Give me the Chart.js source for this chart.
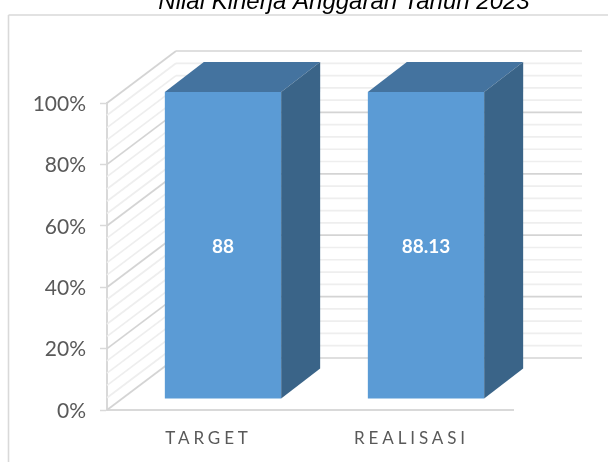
<!DOCTYPE html>
<html>
<head>
<meta charset="utf-8">
<title>Nilai Kinerja Anggaran Tahun 2023</title>
<style>
  html, body { margin: 0; padding: 0; background: #fff; overflow: hidden; }
  canvas { display: block; }
</style>
<script src="https://cdn.jsdelivr.net/npm/chart.js@4"></script>
</head>
<body>
<canvas id="chart" width="608" height="462"></canvas>
<script>
const chartTitle = 'Nilai Kinerja Anggaran Tahun 2023'
const categories = ['TARGET', 'REALISASI']
const sharePercent = [100, 100]
const valueLabels = ['88', '88.13']

const yMax = 100
const majorStep = 20
const minorStep = 4

// "3D" look: depth of the walls and of the bars
const wall = { dx: 69, dy: 52, right: 582 }
const bar = { dx: 39, dy: 30, shiftX: 14.5, shiftY: -11 }

function line (ctx, x1, y1, x2, y2, color, width) {
  ctx.strokeStyle = color
  ctx.lineWidth = width
  ctx.beginPath()
  ctx.moveTo(x1, y1)
  ctx.lineTo(x2, y2)
  ctx.stroke()
}

function face (ctx, pts, color) {
  ctx.fillStyle = color
  ctx.beginPath()
  pts.forEach((p, i) => i ? ctx.lineTo(p[0], p[1]) : ctx.moveTo(p[0], p[1]))
  ctx.closePath()
  ctx.fill()
}

const fake3d = {
  id: 'fake3d',
  beforeDraw (chart) {
    const ctx = chart.ctx
    ctx.save()
    ctx.fillStyle = '#fff'
    ctx.fillRect(0, 0, chart.width, chart.height)
    line(ctx, 8.5, 15, chart.width, 15, '#d9d9d9', 1.6)
    line(ctx, 8.5, 15, 8.5, chart.height, '#d9d9d9', 1.6)
    ctx.restore()
  },
  beforeDatasetsDraw (chart) {
    const ctx = chart.ctx
    const { x, y } = chart.scales
    const left = x.left
    ctx.save()
    for (let v = 0; v <= yMax; v += minorStep) {
      const major = v % majorStep === 0
      const color = major ? '#d4d4d4' : '#eeeeee'
      const py = y.getPixelForValue(v)
      line(ctx, left, py, left + wall.dx, py - wall.dy, color, 1.7)
      line(ctx, left + wall.dx, py - wall.dy, wall.right, py - wall.dy, color, 1.7)
    }
    ctx.restore()
    ctx.save()
    ctx.translate(bar.shiftX, bar.shiftY)
  },
  afterDatasetsDraw (chart) {
    const ctx = chart.ctx
    chart.getDatasetMeta(0).data.forEach((el, i) => {
      const l = el.x - el.width / 2
      const r = el.x + el.width / 2
      face(ctx, [[l, el.y], [r, el.y], [r + bar.dx, el.y - bar.dy], [l + bar.dx, el.y - bar.dy]], '#44739f')
      face(ctx, [[r, el.y], [r + bar.dx, el.y - bar.dy], [r + bar.dx, el.base - bar.dy], [r, el.base]], '#3a6488')
      ctx.fillStyle = '#fff'
      ctx.font = 'bold 19px Lato'
      ctx.textAlign = 'center'
      ctx.textBaseline = 'middle'
      ctx.fillText(valueLabels[i], el.x, (el.y + el.base) / 2 + 2)
    })
    ctx.restore()
    // x labels are drawn after the datasets (ticks.z = 1), only they get the spacing
    ctx.letterSpacing = '3.9px'
  },
  afterDraw (chart) {
    const ctx = chart.ctx
    ctx.letterSpacing = '0px'
    ctx.save()
    ctx.fillStyle = '#000'
    ctx.font = 'italic 24px "Liberation Sans"'
    ctx.textAlign = 'center'
    ctx.textBaseline = 'alphabetic'
    ctx.fillText(chartTitle, 344, 9)
    ctx.restore()
  }
}

new Chart(document.getElementById('chart'), {
  type: 'bar',
  plugins: [fake3d],
  data: {
    labels: categories,
    datasets: [{
      data: sharePercent,
      backgroundColor: '#5b9bd5',
      barPercentage: 0.573,
      categoryPercentage: 1
    }]
  },
  options: {
    responsive: false,
    animation: false,
    layout: { padding: { top: 103, right: 95, left: 0, bottom: 0 } },
    plugins: { legend: { display: false }, tooltip: { enabled: false }, title: { display: false } },
    scales: {
      x: {
        afterFit: s => { s.height = 52 },
        grid: { display: false },
        border: { color: '#d9d9d9', width: 2 },
        ticks: {
          z: 1,
          color: '#595959',
          padding: 10,
          font: { family: 'Lato', size: 17 }
        }
      },
      y: {
        min: 0,
        max: yMax,
        afterFit: s => { s.width = 107 },
        grid: { drawOnChartArea: false, color: '#d9d9d9', tickLength: 7, tickWidth: 1.5 },
        border: { color: '#d9d9d9', width: 2 },
        ticks: {
          stepSize: majorStep,
          color: '#595959',
          padding: 14,
          labelOffset: 1,
          font: { family: 'Lato', size: 21 },
          callback: v => v + '%'
        }
      }
    }
  }
})
</script>
</body>
</html>
